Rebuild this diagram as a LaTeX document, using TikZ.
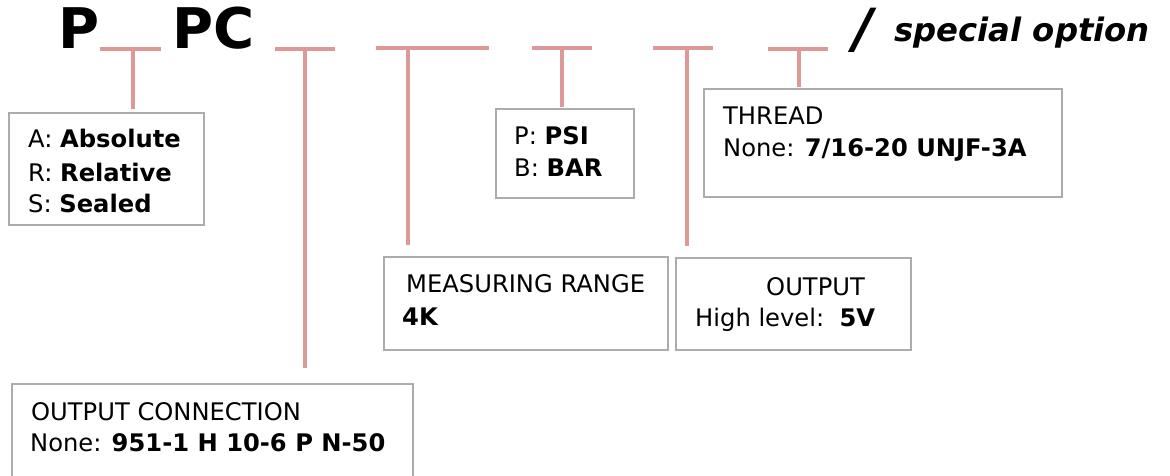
\documentclass[tikz,border=0pt]{standalone}
\usepackage{fontspec}
\setmainfont{DejaVu Sans}
\definecolor{barc}{RGB}{221,152,152}
\definecolor{framec}{RGB}{172,172,172}
\begin{document}
\begin{tikzpicture}[x=1pt,y=-1pt,
  bar/.style={draw=barc, line width=4pt},
  box/.style={draw=framec, line width=1.6pt, inner sep=0pt, anchor=north west},
  lbl/.style={anchor=base west, inner sep=0pt, font=\fontsize{24.2}{32}\selectfont},
  ttl/.style={anchor=base west, inner sep=0pt, font=\fontsize{56}{60}\selectfont\bfseries},
]
\useasboundingbox (0,0) rectangle (1170,476);
\clip (0,0) rectangle (1170,476);

% title
\node[ttl] (tP) at (58,49) {P};
\node[ttl] (tPC) at (172,49) {PC};
\node[anchor=base west, inner sep=0pt, font=\fontsize{54}{60}\selectfont\bfseries\itshape] (slash) at (853,48) {/};
\node[anchor=base west, inner sep=0pt, font=\fontsize{32.3}{36}\selectfont\bfseries\itshape] (spec) at (894,42) {special option};

% boxes
\node[box, minimum width=195pt, minimum height=112pt] (b1) at (8,112) {};
\node[box, minimum width=138pt, minimum height=89pt] (b2) at (495,108) {};
\node[box, minimum width=358pt, minimum height=108pt] (b3) at (703,88) {};
\node[box, minimum width=284pt, minimum height=93pt] (b4) at (383,256) {};
\node[box, minimum width=235pt, minimum height=92pt] (b5) at (675,257) {};
\node[box, minimum width=401pt, minimum height=120pt] (b6) at (11,383) {};

% box texts
\node[lbl] (b1a) at (28,148) {A: \textbf{Absolute}};
\node[lbl] (b1b) at (28,181) {R: \textbf{Relative}};
\node[lbl] (b1c) at (28,212) {S: \textbf{Sealed}};
\node[lbl] (b2a) at (514,145) {P: \textbf{PSI}};
\node[lbl] (b2b) at (514,176) {B: \textbf{BAR}};
\node[lbl] (b3a) at (723,125) {THREAD};
\node[lbl] (b3b) at (723,157) {None: \textbf{7/16-20 UNJF-3A}};
\node[lbl] (b4a) at (406,292) {MEASURING RANGE};
\node[lbl] (b4b) at (402,325) {\textbf{4K}};
\node[lbl] (b5a) at (766,295) {OUTPUT};
\node[lbl] (b5b) at (695,326) {High level:\ \ \textbf{5V}};
\node[lbl] (b6a) at (31,420) {OUTPUT CONNECTION};
\node[lbl] (b6b) at (30,451) {None: \textbf{951-1 H 10-6 P N-50}};

% bars
\coordinate (t1l) at (100,49.5); \coordinate (t1r) at (161,49.5); \coordinate (t1) at (133,49.5);
\coordinate (t2l) at (275,49); \coordinate (t2r) at (335,49); \coordinate (t2) at (305,49);
\coordinate (t3l) at (376,48); \coordinate (t3r) at (489,48); \coordinate (t3) at (408,48);
\coordinate (t4l) at (532,48); \coordinate (t4r) at (592,48); \coordinate (t4) at (562,48);
\coordinate (t5l) at (653,48); \coordinate (t5r) at (713,48); \coordinate (t5) at (687,48);
\coordinate (t6l) at (768,49); \coordinate (t6r) at (828,49); \coordinate (t6) at (799,49);

\draw[bar] (t1l) -- (t1r);
\draw[bar] (t2l) -- (t2r);
\draw[bar] (t3l) -- (t3r);
\draw[bar] (t4l) -- (t4r);
\draw[bar] (t5l) -- (t5r);
\draw[bar] (t6l) -- (t6r);

\draw[bar, shorten >=3pt] (t1) -- (t1 |- b1.north);
\draw[bar, shorten >=15pt] (t2) -- (t2 |- b6.north);
\draw[bar, shorten >=11pt] (t3) -- (t3 |- b4.north);
\draw[bar, shorten >=1pt] (t4) -- (t4 |- b2.north);
\draw[bar, shorten >=11pt] (t5) -- (t5 |- b5.north);
\draw[bar, shorten >=1pt] (t6) -- (t6 |- b3.north);
\end{tikzpicture}
\end{document}
